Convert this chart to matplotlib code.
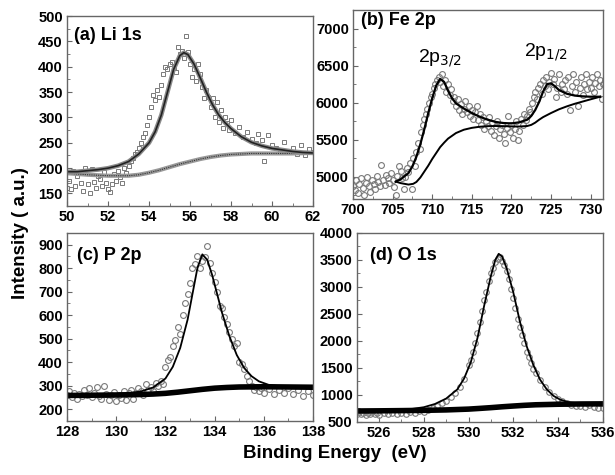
import matplotlib
matplotlib.use("Agg")
import matplotlib.pyplot as plt
from matplotlib.ticker import MultipleLocator

plt.rcParams['font.family'] = ['Liberation Sans', 'DejaVu Sans']

# (a) Li 1s
a_x = [50.0, 50.1, 50.2, 50.3, 50.4, 50.5, 50.6, 50.7, 50.8, 50.9, 51.0, 51.1, 51.2, 51.3, 51.4,
       51.5, 51.6, 51.7, 51.8, 51.9, 52.0, 52.1, 52.2, 52.3, 52.4, 52.5, 52.6, 52.7, 52.8, 52.9,
       53.0, 53.1, 53.2, 53.3, 53.4, 53.5, 53.6, 53.7, 53.8, 53.9, 54.0, 54.1, 54.2, 54.3, 54.4,
       54.5, 54.6, 54.7, 54.8, 54.9, 55.0, 55.1, 55.2, 55.3, 55.4, 55.5, 55.6, 55.7, 55.8, 55.9,
       56.0, 56.1, 56.2, 56.3, 56.4, 56.5, 56.6, 56.7, 56.8, 56.9, 57.0, 57.1, 57.2, 57.3, 57.4,
       57.5, 57.6, 57.7, 57.8, 57.9, 58.0, 58.2, 58.4, 58.6, 58.8, 59.0, 59.2, 59.3, 59.5, 59.6,
       59.8, 60.0, 60.2, 60.4, 60.6, 60.8, 61.0, 61.2, 61.4, 61.6, 61.8, 62.0]
a_y = [160, 175, 158, 195, 165, 185, 190, 170, 155, 200, 168, 150, 198, 172, 160,
       185, 178, 164, 192, 170, 158, 152, 168, 188, 175, 195, 182, 170, 200, 190,
       205, 215, 220, 228, 232, 240, 250, 262, 270, 285, 300, 320, 345, 335, 355,
       340, 365, 385, 400, 395, 405, 410, 398, 390, 440, 425, 432, 418, 460, 430,
       405, 380, 395, 372, 405, 385, 360, 338, 355, 340, 320, 338, 300, 330, 292,
       315, 280, 300, 290, 275, 296, 270, 282, 262, 272, 258, 250, 268, 255, 215,
       265, 245, 240, 235, 252, 232, 240, 228, 245, 225, 238, 232]
a_fit_x = [50, 50.5, 51, 51.5, 52, 52.5, 53, 53.5, 54, 54.3, 54.6, 54.9, 55.2, 55.5, 55.7, 55.9,
           56.2, 56.5, 56.8, 57.1, 57.4, 57.7, 58, 58.5, 59, 59.5, 60, 60.5, 61, 61.5, 62]
a_fit_y = [193, 193, 195, 197, 200, 205, 213, 228, 250, 272, 305, 350, 395, 422, 428, 424,
           405, 378, 350, 325, 305, 290, 278, 262, 251, 244, 239, 236, 233, 231, 230]
a_bg_x = [50, 51, 52, 53, 53.5, 54, 54.5, 55, 55.5, 56, 56.5, 57, 57.5, 58, 58.5, 59, 60, 61, 62]
a_bg_y = [190, 187, 185, 185, 187, 191, 196, 202, 208, 213, 218, 222, 225, 227, 228, 229, 229, 229, 230]

# (b) Fe 2p
b_x = [700.0, 700.2, 700.4, 700.6, 700.8, 701.0, 701.2, 701.4, 701.6, 701.8, 702.0, 702.2, 702.4,
       702.6, 702.8, 703.0, 703.2, 703.4, 703.5, 703.8, 704.0, 704.2, 704.4, 704.6, 704.8, 705.0,
       705.2, 705.4, 705.6, 705.8, 706.0, 706.2, 706.4, 706.6, 706.8, 707.0, 707.2, 707.4, 707.6,
       707.8, 708.0, 708.2, 708.4, 708.6, 708.8, 709.0, 709.2, 709.4, 709.6, 709.8, 710.0, 710.2,
       710.4, 710.6, 710.8, 711.0, 711.2, 711.4, 711.6, 711.8, 712.0, 712.2, 712.4, 712.6, 712.8,
       713.0, 713.2, 713.4, 713.6, 713.8, 714.0, 714.2, 714.4, 714.6, 714.8, 715.0, 715.2, 715.4,
       715.6, 715.8, 716.0, 716.2, 716.4, 716.6, 716.8, 717.0, 717.2, 717.4, 717.6, 717.8, 718.0,
       718.2, 718.4, 718.6, 718.8, 719.0, 719.2, 719.4, 719.6, 719.8, 720.0, 720.2, 720.4, 720.6,
       720.8, 721.0, 721.2, 721.4, 721.6, 721.8, 722.0, 722.2, 722.4, 722.6, 722.8, 723.0, 723.2,
       723.4, 723.6, 723.8, 724.0, 724.2, 724.4, 724.6, 724.8, 725.0, 725.2, 725.4, 725.6, 725.8,
       726.0, 726.2, 726.4, 726.6, 726.8, 727.0, 727.2, 727.4, 727.6, 727.8, 728.0, 728.2, 728.4,
       728.6, 728.8, 729.0, 729.2, 729.4, 729.6, 729.8, 730.0, 730.2, 730.4, 730.6, 730.8, 731.0,
       731.2, 731.4, 731.6, 731.8]
b_y = [4880, 4820, 4950, 4780, 4900, 4980, 4850, 4760, 4920, 5000, 4880, 4800, 4960,
       4900, 4840, 5010, 4930, 4870, 5160, 4950, 4890, 5020, 4980, 4920, 5050, 4960,
       4860, 4760, 5010, 5150, 5080, 4990, 4840, 5000, 5120, 5060, 5180, 4830, 5250,
       5150, 5340, 5450, 5380, 5600, 5700, 5780, 5850, 5920, 6000, 6080, 6120, 6200,
       6250, 6300, 6350, 6280, 6380, 6220, 6300, 6150, 6250, 6100, 6180, 6020, 6080,
       5950, 6050, 5900, 5980, 5850, 5920, 6020, 5870, 5950, 5820, 5900, 5780, 5880,
       5950, 5760, 5850, 5700, 5800, 5650, 5750, 5680, 5800, 5620, 5720, 5560, 5680,
       5750, 5520, 5640, 5700, 5580, 5450, 5660, 5820, 5600, 5700, 5520, 5650, 5750,
       5500, 5620, 5780, 5700, 5850, 5760, 5820, 5920, 5880, 6000, 6080, 6150, 6050,
       6200, 6250, 6120, 6300, 6220, 6350, 6180, 6280, 6400, 6250, 6320, 6080, 6200,
       6380, 6150, 6250, 6180, 6300, 6120, 6350, 5900, 6220, 6380, 6150, 6280, 5950,
       6200, 6350, 6100, 6250, 6380, 6180, 6280, 6200, 6350, 6150, 6260, 6380, 6220,
       6300, 6050, 6250, 6300]
b_fit_x = [705.4, 706, 707, 707.5, 708, 708.5, 709, 709.5, 710, 710.5, 711, 711.5, 712, 712.5,
           713, 714, 715, 716, 717, 718, 719, 720, 721, 722, 722.5, 723, 723.5, 724, 724.5,
           725, 725.5, 726, 727, 728, 729, 730, 731.2]
b_fit_y = [4935, 4965, 5050, 5140, 5270, 5440, 5640, 5860, 6060, 6230, 6320, 6280, 6160, 6060,
           5990, 5920, 5860, 5810, 5770, 5740, 5725, 5720, 5735, 5770, 5820, 5900, 6010, 6150, 6250,
           6260, 6220, 6170, 6120, 6095, 6085, 6080, 6080]
b_bg_x = [705.4, 706, 707, 707.6, 708, 708.5, 709, 709.5, 710, 710.5, 711, 711.5, 712, 713, 714,
          715, 716, 717, 718, 719, 720, 721, 722, 722.5, 723, 723.5, 724, 725, 726, 727, 728,
          729, 730, 731.2]
b_bg_y = [4935, 4915, 4895, 4905, 4930, 4990, 5070, 5150, 5240, 5320, 5400, 5460, 5515, 5590, 5635,
          5660, 5675, 5683, 5685, 5683, 5680, 5678, 5685, 5700, 5730, 5770, 5805, 5860, 5910, 5950, 5985,
          6015, 6045, 6080]

# (c) P 2p
c_x = [128.0, 128.1, 128.2, 128.3, 128.4, 128.5, 128.6, 128.7, 128.8, 128.9, 129.0, 129.1, 129.2,
       129.3, 129.4, 129.5, 129.6, 129.7, 129.8, 129.9, 130.0, 130.1, 130.2, 130.3, 130.4, 130.5,
       130.6, 130.7, 130.8, 130.9, 131.0, 131.1, 131.2, 131.3, 131.4, 131.5, 131.6, 131.7, 131.8,
       131.9, 132.0, 132.1, 132.2, 132.3, 132.4, 132.5, 132.6, 132.7, 132.8, 132.9, 133.0, 133.1,
       133.2, 133.3, 133.4, 133.5, 133.6, 133.7, 133.8, 133.9, 134.0, 134.1, 134.2, 134.3, 134.4,
       134.5, 134.6, 134.7, 134.8, 134.9, 135.0, 135.1, 135.2, 135.3, 135.4, 135.5, 135.6, 135.7,
       135.8, 135.9, 136.0, 136.2, 136.4, 136.6, 136.8, 137.0, 137.2, 137.4, 137.6, 137.8, 138.0]
c_y = [260, 275, 250, 270, 245, 265, 255, 280, 262, 290, 250, 270, 292,
       255, 245, 300, 265, 240, 258, 272, 235, 262, 248, 278, 240, 268,
       283, 245, 270, 290, 275, 262, 305, 280, 295, 278, 310, 300, 320,
       305, 380, 410, 420, 470, 495, 550, 520, 600, 650, 690, 735, 800,
       815, 850, 800, 830, 845, 895, 820, 780, 740, 700, 640, 630, 590,
       560, 530, 500, 470, 480, 400, 390, 370, 340, 320, 300, 280, 295,
       275, 290, 270, 285, 265, 280, 270, 290, 265, 280, 255, 275, 260]
c_fit_x = [128, 129, 130, 130.5, 131, 131.5, 132, 132.3, 132.6, 132.9, 133.1, 133.3, 133.5, 133.7,
           133.9, 134.1, 134.3, 134.6, 134.9, 135.2, 135.5, 135.8, 136.2, 136.7, 137.2, 138]
c_fit_y = [262, 263, 265, 268, 275, 292, 330, 380, 460, 580, 690, 800, 858, 835,
           770, 690, 610, 510, 430, 375, 340, 318, 303, 296, 293, 292]
c_bg_x = [128, 129, 130, 131, 131.5, 132, 132.5, 133, 133.5, 134, 134.5, 135, 136, 137, 138]
c_bg_y = [258, 259, 260, 262, 264, 267, 272, 278, 284, 289, 292, 294, 295, 294, 293]

# (d) O 1s
d_x = [525.0, 525.1, 525.2, 525.3, 525.4, 525.5, 525.6, 525.7, 525.8, 525.9, 526.0, 526.2, 526.4,
       526.6, 526.8, 527.0, 527.2, 527.4, 527.6, 527.8, 528.0, 528.2, 528.4, 528.6, 528.8, 529.0,
       529.2, 529.4, 529.6, 529.8, 530.0, 530.1, 530.2, 530.3, 530.4, 530.5, 530.6, 530.7, 530.8,
       530.9, 531.0, 531.1, 531.2, 531.3, 531.4, 531.5, 531.6, 531.7, 531.8, 531.9, 532.0, 532.1,
       532.2, 532.3, 532.4, 532.5, 532.6, 532.7, 532.8, 532.9, 533.0, 533.2, 533.4, 533.6, 533.8,
       534.0, 534.2, 534.4, 534.6, 534.8, 535.0, 535.2, 535.4, 535.6, 535.8, 536.0]
d_y = [650, 680, 640, 665, 630, 660, 645, 675, 640, 660, 635, 665, 640,
       670, 645, 660, 650, 680, 660, 700, 690, 720, 760, 800, 850, 890,
       950, 1030, 1150, 1300, 1550, 1650, 1800, 1950, 2150, 2350, 2550, 2750, 2900,
       3100, 3250, 3350, 3450, 3520, 3550, 3480, 3400, 3300, 3150, 2950, 2800, 2600,
       2400, 2250, 2100, 1950, 1800, 1700, 1580, 1480, 1400, 1270, 1150, 1050, 980,
       930, 880, 850, 820, 800, 790, 780, 820, 770, 760, 750]
d_fit_x = [525, 526, 527, 527.5, 528, 528.5, 529, 529.5, 529.8, 530.1, 530.4, 530.7, 531, 531.2,
           531.35, 531.5, 531.7, 532, 532.3, 532.6, 532.9, 533.2, 533.5, 533.8, 534.1, 534.5, 535, 536]
d_fit_y = [720, 722, 728, 740, 770, 830, 930, 1100, 1300, 1600, 2050, 2650, 3200, 3500,
           3610, 3560, 3350, 2900, 2350, 1900, 1550, 1280, 1100, 980, 910, 860, 840, 830]
d_bg_x = [525, 526, 527, 528, 529, 530, 530.5, 531, 531.5, 532, 532.5, 533, 534, 535, 536]
d_bg_y = [700, 703, 707, 712, 720, 735, 748, 762, 778, 792, 805, 815, 825, 830, 832]

fig = plt.figure(figsize=(6.15, 4.75), dpi=100)
ax_a = fig.add_axes([0.109, 0.566, 0.400, 0.400])
ax_b = fig.add_axes([0.574, 0.581, 0.407, 0.398])
ax_c = fig.add_axes([0.109, 0.114, 0.400, 0.396])
ax_d = fig.add_axes([0.580, 0.112, 0.400, 0.398])

gray = '#7a7a7a'

# a
ax_a.plot(a_x, a_y, 's', ms=2.6, mfc='none', mec=gray, mew=0.7)
ax_a.plot(a_bg_x, a_bg_y, '-', color='#999999', lw=3.0)
ax_a.plot(a_bg_x, a_bg_y, '-', color='#333333', lw=0.8, ls=(0, (1, 1)))
ax_a.plot(a_fit_x, a_fit_y, '-', color='#8a8a8a', lw=3.2)
ax_a.plot(a_fit_x, a_fit_y, '-', color='#222222', lw=1.2)
ax_a.set_xlim(50, 62)
ax_a.set_ylim(125, 500)
ax_a.xaxis.set_major_locator(MultipleLocator(2))
ax_a.xaxis.set_minor_locator(MultipleLocator(1))
ax_a.yaxis.set_minor_locator(MultipleLocator(25))
ax_a.set_yticks([150, 200, 250, 300, 350, 400, 450, 500])
ax_a.text(0.03, 0.945, '(a) Li 1s', transform=ax_a.transAxes, ha='left', va='top',
          fontsize=13, fontweight='bold')

# b
ax_b.plot(b_x, b_y, 'o', ms=4.2, mfc='none', mec=gray, mew=0.8)
ax_b.plot(b_bg_x, b_bg_y, '-', color='black', lw=1.4)
ax_b.plot(b_fit_x, b_fit_y, '-', color='black', lw=1.6)
ax_b.set_xlim(700, 731.6)
ax_b.set_ylim(4700, 7250)
ax_b.xaxis.set_major_locator(MultipleLocator(5))
ax_b.xaxis.set_minor_locator(MultipleLocator(2.5))
ax_b.yaxis.set_minor_locator(MultipleLocator(250))
ax_b.set_yticks([5000, 5500, 6000, 6500, 7000])
ax_b.text(0.03, 0.99, '(b) Fe 2p', transform=ax_b.transAxes, ha='left', va='top',
          fontsize=13, fontweight='bold')
ax_b.text(711, 6450, r'2p$_{3/2}$', ha='center', va='bottom', fontsize=14)
ax_b.text(724.3, 6540, r'2p$_{1/2}$', ha='center', va='bottom', fontsize=14)

# c
ax_c.plot(c_x, c_y, 'o', ms=4.2, mfc='none', mec=gray, mew=0.8)
ax_c.plot(c_bg_x, c_bg_y, '-', color='black', lw=4.0)
ax_c.plot(c_fit_x, c_fit_y, '-', color='black', lw=1.3)
ax_c.set_xlim(128, 138)
ax_c.set_ylim(150, 950)
ax_c.xaxis.set_major_locator(MultipleLocator(2))
ax_c.xaxis.set_minor_locator(MultipleLocator(1))
ax_c.yaxis.set_minor_locator(MultipleLocator(50))
ax_c.set_yticks([200, 300, 400, 500, 600, 700, 800, 900])
ax_c.text(0.04, 0.925, '(c) P 2p', transform=ax_c.transAxes, ha='left', va='top',
          fontsize=13, fontweight='bold')

# d
ax_d.plot(d_x, d_y, 'o', ms=4.0, mfc='none', mec=gray, mew=0.8)
ax_d.plot(d_bg_x, d_bg_y, '-', color='black', lw=4.0)
ax_d.plot(d_fit_x, d_fit_y, '-', color='black', lw=1.3)
ax_d.set_xlim(525, 536)
ax_d.set_ylim(500, 4000)
ax_d.set_xticks([526, 528, 530, 532, 534, 536])
ax_d.xaxis.set_minor_locator(MultipleLocator(1))
ax_d.yaxis.set_minor_locator(MultipleLocator(250))
ax_d.set_yticks([500, 1000, 1500, 2000, 2500, 3000, 3500, 4000])
ax_d.text(0.055, 0.925, '(d) O 1s', transform=ax_d.transAxes, ha='left', va='top',
          fontsize=13, fontweight='bold')

for ax in (ax_a, ax_b, ax_c, ax_d):
    for s in ax.spines.values():
        s.set_color('#666666')
        s.set_linewidth(1.0)
    ax.tick_params(which='both', direction='in', color='#666666', labelsize=10.5, pad=3)
    ax.tick_params(which='major', length=3.5)
    ax.tick_params(which='minor', length=2)
    for lab in ax.get_xticklabels() + ax.get_yticklabels():
        lab.set_fontweight('bold')

fig.text(0.033, 0.51, 'Intensity ( a.u.)', rotation=90, ha='center', va='center',
         fontsize=13.5, fontweight='bold')
fig.text(0.545, 0.045, 'Binding Energy  (eV)', ha='center', va='center',
         fontsize=13.5, fontweight='bold')

fig.savefig('out.png', dpi=100)
